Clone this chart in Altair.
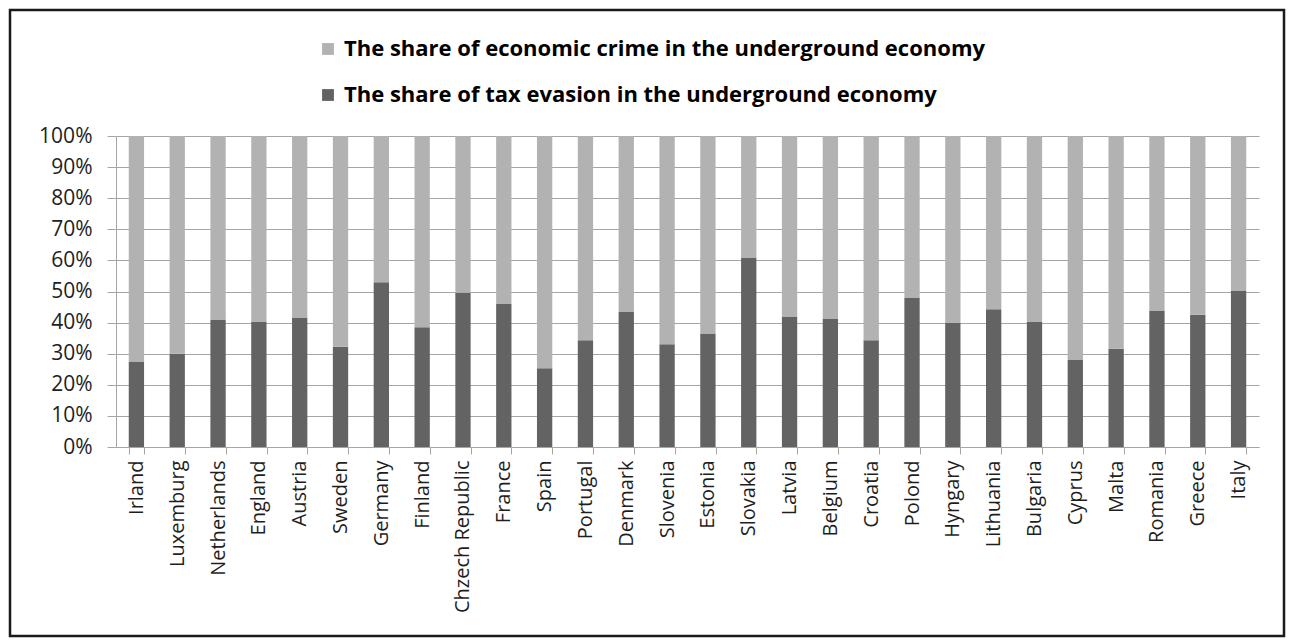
import altair as alt
import pandas as pd

countries = ["Irland", "Luxemburg", "Netherlands", "England", "Austria", "Sweden",
             "Germany", "Finland", "Chzech Republic", "France", "Spain", "Portugal",
             "Denmark", "Slovenia", "Estonia", "Slovakia", "Latvia", "Belgium",
             "Croatia", "Polond", "Hyngary", "Lithuania", "Bulgaria", "Cyprus",
             "Malta", "Romania", "Greece", "Italy"]
tax_evasion = [27.5, 30.0, 41.0, 40.2, 41.5, 32.2, 53.0, 38.5, 49.6, 46.0, 25.3, 34.3,
               43.6, 33.0, 36.5, 60.9, 42.0, 41.3, 34.3, 48.1, 39.9, 44.3, 40.2, 28.0,
               31.6, 43.9, 42.5, 50.3]
economic_crime = [round(100 - v, 1) for v in tax_evasion]

series_names = ["The share of economic crime in the underground economy",
                "The share of tax evasion in the underground economy"]
series_colors = ["#b2b2b2", "#636363"]
y_ticks = [0, 10, 20, 30, 40, 50, 60, 70, 80, 90, 100]

rows = []
for c, t, e in zip(countries, tax_evasion, economic_crime):
    rows.append({"country": c, "series": series_names[1], "value": t, "k": 0})
    rows.append({"country": c, "series": series_names[0], "value": e, "k": 1})
df = pd.DataFrame(rows)

W, H = 1143, 311
FONT = "Open Sans"

bars = alt.Chart(df).mark_bar().encode(
    x=alt.X("country:N", sort=countries, title=None,
            scale=alt.Scale(paddingInner=0.625, paddingOuter=0.3125),
            axis=alt.Axis(labelAngle=-90, tickBand="extent", tickSize=7,
                          labelPadding=6, labelFontSize=20, labelFont=FONT,
                          labelColor="#1e1e1e", domainColor="#a6a6a6",
                          tickColor="#a6a6a6", grid=False, labelOverlap=False)),
    y=alt.Y("value:Q", stack="zero", title=None,
            scale=alt.Scale(domain=[0, 100], nice=False),
            axis=alt.Axis(values=y_ticks, labelExpr="datum.value + '%'",
                          tickSize=9, labelPadding=15, labelFontSize=21,
                          labelFont=FONT, labelColor="#1e1e1e",
                          domainColor="#a6a6a6", tickColor="#a6a6a6",
                          gridColor="#a6a6a6", grid=True)),
    color=alt.Color("series:N",
                    scale=alt.Scale(domain=series_names, range=series_colors),
                    legend=alt.Legend(title=None, orient="none", legendX=201,
                                      legendY=-98, direction="vertical",
                                      symbolType="square", symbolSize=140,
                                      symbolStrokeWidth=0, labelFontSize=22,
                                      labelFont=FONT, labelFontWeight="bold",
                                      labelColor="#000000", labelOffset=5,
                                      rowPadding=24, labelLimit=900)),
    order=alt.Order("k:Q"),
)

frame = alt.Chart(pd.DataFrame({"f": [0]})).mark_rect(
    filled=False, stroke="#1a1a1a", strokeWidth=2.5
).encode(
    x=alt.value(-106), x2=alt.value(W + 25),
    y=alt.value(-126), y2=alt.value(H + 189)
)

chart = alt.layer(bars, frame).properties(
    width=W, height=H,
    autosize=alt.AutoSizeParams(type="none"),
    padding={"left": 108, "top": 128, "right": 27, "bottom": 192},
).configure_view(strokeWidth=0)

chart.save("out.html", embed_options={"renderer": "svg", "actions": False})
